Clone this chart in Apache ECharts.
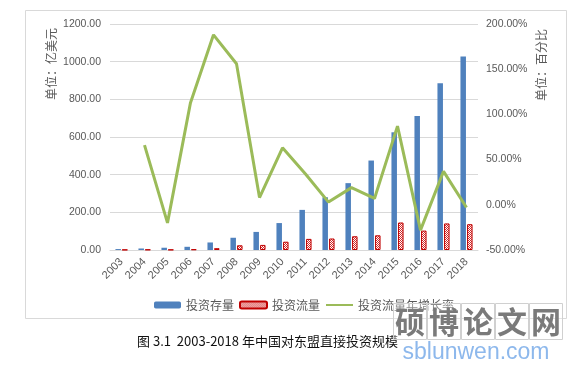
<!DOCTYPE html>
<html>
<head>
<meta charset="utf-8">
<script src="https://cdn.jsdelivr.net/npm/echarts@6/dist/echarts.min.js"></script>
<style>
html,body{margin:0;padding:0;background:#fff;}
#c{width:580px;height:373px;}
</style>
</head>
<body>
<div id="c"></div>
<script>
const years = ['2003','2004','2005','2006','2007','2008','2009','2010','2011','2012','2013','2014','2015','2016','2017','2018'];
const stockValues = [5, 8, 12, 17, 40, 65, 96, 143, 213, 280, 355, 475, 625, 712, 886, 1027];
const flowValues = [1.2, 2.0, 1.6, 3.4, 9.7, 25, 27, 44, 59, 61, 73, 78, 146, 103, 141, 137];
const growthValues = [null, 66, -20, 113, 188, 156, 8, 63, 34, 3, 19, 7, 87, -28, 37, -3];
const leftTicks = {min: 0, max: 1200, interval: 200};
const rightTicks = {min: -50, max: 200, interval: 50};
const seriesNames = ['投资存量', '投资流量', '投资流量年增长率'];
const leftAxisName = '单位：亿美元';
const rightAxisName = '单位：百分比';
const caption = '图 3.1  2003-2018 年中国对东盟直接投资规模';
const watermarkChars = ['硕','博','论','文','网'];
const watermarkUrl = 'sblunwen.com';

const pc = document.createElement('canvas');
pc.width = 2; pc.height = 2;
const pctx = pc.getContext('2d');
pctx.fillStyle = '#ffffff'; pctx.fillRect(0,0,2,2);
pctx.fillStyle = '#D42A2A'; pctx.fillRect(0,0,1,1); pctx.fillRect(1,1,1,1);

const chart = echarts.init(document.getElementById('c'), null, {renderer:'canvas'});
const axisFont = 'Liberation Sans';
const cjk = 'Noto Sans CJK SC';

const graphics = [
  {type:'rect', shape:{x:25.5, y:10.5, width:541, height:308}, style:{fill:'none', stroke:'#D9D9D9', lineWidth:1}, z:-1},
  {type:'text', x:51, y:64, rotation:Math.PI/2, style:{text:leftAxisName, fontSize:12, fontFamily:cjk, fill:'#595959', align:'center', verticalAlign:'middle', textAlign:'center', textVerticalAlign:'middle'}},
  {type:'text', x:541, y:65, rotation:Math.PI/2, style:{text:rightAxisName, fontSize:12, fontFamily:cjk, fill:'#595959', align:'center', verticalAlign:'middle', textAlign:'center', textVerticalAlign:'middle'}},
  {type:'text', x:137, y:341, style:{text:caption, fontSize:13, fontFamily:cjk, fill:'#111', align:'left', verticalAlign:'middle', textAlign:'left', textVerticalAlign:'middle'}}
];
watermarkChars.forEach(function(ch, i){
  const bx = 393 + i*34;
  graphics.push({type:'rect', shape:{x:bx+0.5, y:303.5, width:33, height:36}, style:{fill:'rgba(255,255,255,0.3)', stroke:'#D0D0D0', lineWidth:1}, z:10});
  graphics.push({type:'text', x:bx+17, y:322, style:{text:ch, fontSize:30, fontWeight:'bold', fontFamily:cjk, fill:'#7A7A7A', align:'center', verticalAlign:'middle', textAlign:'center', textVerticalAlign:'middle'}, z:11});
});
graphics.push({type:'text', x:476, y:353, style:{text:watermarkUrl, fontSize:23, fontFamily:'Liberation Sans', fill:'#8DB8EC', align:'center', verticalAlign:'middle', textAlign:'center', textVerticalAlign:'middle'}, z:11});

chart.setOption({
  animation:false,
  backgroundColor:'#fff',
  grid:{left:110, right:102, top:24, bottom:123, containLabel:false},
  legend:{
    data:[seriesNames[0], seriesNames[1], {name:seriesNames[2], itemStyle:{opacity:0}}],
    left:149, top:294, itemWidth:27, itemHeight:7, itemGap:5,
    textStyle:{fontSize:12, color:'#595959', fontFamily:cjk}
  },
  xAxis:{
    type:'category', data:years,
    axisLine:{lineStyle:{color:'#D9D9D9'}},
    axisTick:{show:false},
    axisLabel:{rotate:45, fontSize:11, color:'#595959', fontFamily:axisFont, margin:10, interval:0}
  },
  yAxis:[
    {type:'value', min:leftTicks.min, max:leftTicks.max, interval:leftTicks.interval,
     axisLine:{show:false}, axisTick:{show:false},
     splitLine:{lineStyle:{color:'#D9D9D9'}},
     axisLabel:{fontSize:10.5, color:'#595959', fontFamily:axisFont, margin:9, formatter:function(v){return v.toFixed(2);}}},
    {type:'value', min:rightTicks.min, max:rightTicks.max, interval:rightTicks.interval,
     axisLine:{show:false}, axisTick:{show:false}, splitLine:{show:false},
     axisLabel:{fontSize:10.5, color:'#595959', fontFamily:axisFont, margin:8, formatter:function(v){return v.toFixed(2)+'%';}}}
  ],
  series:[
    {name:seriesNames[0], type:'bar', data:stockValues, yAxisIndex:0, barWidth:5.5, barGap:'20%',
     itemStyle:{color:'#4F81BD'}},
    {name:seriesNames[1], type:'bar', data:flowValues, yAxisIndex:0, barWidth:5.5,
     itemStyle:{color:{image:pc, repeat:'repeat'}, borderColor:'#C00000', borderWidth:1}},
    {name:seriesNames[2], type:'line', data:growthValues, yAxisIndex:1, symbol:'none', showSymbol:false,
     lineStyle:{color:'#9BBB59', width:3}, itemStyle:{color:'#9BBB59'}, z:5}
  ],
  graphic:graphics
});
</script>
</body>
</html>
